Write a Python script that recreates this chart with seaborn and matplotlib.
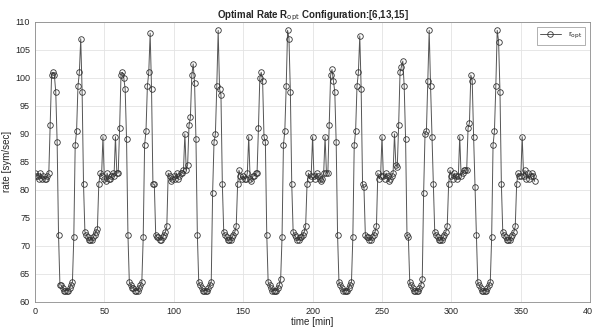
import numpy as np
import pandas as pd
import matplotlib
matplotlib.use("Agg")
import matplotlib.pyplot as plt
import seaborn as sns

# rate per minute
cycle0 = [83, 82.5, 82.5, 82, 83, 82, 82.5, 82, 82, 82.5, 83]
cycle1 = [91.5, 100.5, 101, 100.5, 97.5, 88.5, 72,
          63, 63, 62.5, 62, 62, 62, 62, 62.5, 63, 63.5,
          71.5, 88, 90.5, 98.5, 101, 107, 97.5, 81,
          72.5, 72, 71.5, 71, 71, 71, 71.5, 72, 72.5, 73,
          81,
          83, 82.5, 89.5, 82, 81.5, 83, 82, 82, 82.5, 83, 82.5, 89.5, 83, 83]
cycle2 = [91, 100.5, 101, 100, 98, 89, 72,
          63.5, 63, 62.5, 62.5, 62, 62, 62, 62.5, 63, 63.5,
          71.5, 88, 90.5, 98.5, 101, 108, 98, 81, 81,
          72, 71.5, 71.5, 71, 71, 71.5, 72, 72.5, 73.5,
          83, 82.5, 81.5, 82, 82.5, 82, 83, 82, 82.5, 83, 83, 83.5, 90, 83.5, 84.5]
cycle3 = [91.5, 93, 100.5, 102.5, 99, 89, 72,
          63.5, 63, 62.5, 62, 62, 62, 62, 62.5, 63, 63.5,
          79.5, 88.5, 90, 98.5, 108.5, 98, 97, 81,
          72.5, 72, 71.5, 71, 71, 71, 71.5, 72, 72.5, 73.5,
          81,
          83.5, 82.5, 82, 82.5, 82, 82, 83, 89.5, 82, 81.5, 82.5, 82.5, 83, 83]
cycle4 = [91, 100, 101, 99.5, 89.5, 88.5, 72,
          63.5, 63, 62.5, 62, 62, 62, 62, 62.5, 63, 64,
          71.5, 88, 90.5, 98.5, 108.5, 107, 97.5, 81,
          72.5, 72, 71.5, 71, 71, 71.5, 71.5, 72, 72.5, 73.5,
          81,
          83, 82, 82.5, 89.5, 82.5, 82, 83, 82.5, 82, 81.5, 82, 83, 89.5, 83, 83]
cycle5 = [91.5, 100.5, 101.5, 99.5, 97.5, 88.5, 72,
          63.5, 63, 62.5, 62, 62, 62, 62, 62.5, 63, 63.5,
          71.5, 88, 90.5, 98.5, 101, 107.5, 98, 81, 80.5,
          72, 71.5, 71.5, 71, 71, 71.5, 72, 72.5, 73.5,
          83, 82, 82.5, 89.5, 82.5, 82, 83, 82.5, 81.5, 82, 82.5, 83, 90, 84.5, 84]
cycle6 = [91.5, 101, 102, 103, 98.5, 89, 72, 71.5,
          63.5, 63, 62.5, 62, 62, 62, 62, 62.5, 63, 64,
          79.5, 90, 90.5, 99.5, 108.5, 98.5, 89.5, 81,
          72.5, 72, 71.5, 71, 71, 71, 71.5, 72, 72.5, 73.5,
          81,
          83.5, 82.5, 82, 83, 82.5, 82, 82.5, 89.5, 82.5, 83, 83.5, 83.5, 83.5]
cycle7 = [91, 92, 100.5, 99.5, 89.5, 80.5, 72,
          63.5, 63, 62.5, 62, 62, 62, 62, 62.5, 63, 63.5,
          71.5, 88, 90.5, 98.5, 108.5, 106.5, 97.5, 81,
          72.5, 72, 71.5, 71, 71, 71, 71.5, 72, 72.5, 73.5,
          81,
          83, 82.5, 82.5, 89.5, 82.5, 83.5, 82, 83, 82, 82.5, 83, 82.5, 81.5]

rate = cycle0 + cycle1 + cycle2 + cycle3 + cycle4 + cycle5 + cycle6 + cycle7
df = pd.DataFrame({"time": np.arange(len(rate)), "rate": rate})

sns.set_style("whitegrid")
plt.rcParams["font.family"] = ["Liberation Sans", "DejaVu Sans"]

fig = plt.figure(figsize=(5.92, 3.27), dpi=100)
ax = fig.add_axes([0.059, 0.077, 0.938, 0.856])

sns.lineplot(data=df, x="time", y="rate", ax=ax, color="#555555", linewidth=0.7,
             marker="o", markersize=4, markerfacecolor="none",
             markeredgecolor="#333333", markeredgewidth=0.6, label=r"r$_{\mathrm{opt}}$")

ax.set_xlim(0, 400)
ax.set_ylim(60, 110)
ax.set_xticks(range(0, 401, 50))
ax.set_yticks(range(60, 111, 5))
ax.tick_params(labelsize=6.5, colors="#262626", direction="in", length=3, width=0.5)
ax.grid(True, color="#e3e3e3", linewidth=0.6)
for s in ax.spines.values():
    s.set_edgecolor("#8c8c8c")
    s.set_linewidth(0.6)

ax.set_title(r"Optimal Rate R$_{\mathrm{opt}}$ Configuration:[6,13,15]",
             fontsize=7, fontweight="bold", pad=3)
ax.set_xlabel("time [min]", fontsize=7, color="#262626", labelpad=1)
ax.set_ylabel("rate [sym/sec]", fontsize=7, color="#262626", labelpad=2)

leg = ax.legend(loc="upper right", fontsize=6, frameon=True, fancybox=False,
                handlelength=2.5, borderpad=0.4, borderaxespad=0.6)
leg.get_frame().set_edgecolor("#8c8c8c")
leg.get_frame().set_linewidth(0.6)

fig.savefig("out.png", dpi=100)
